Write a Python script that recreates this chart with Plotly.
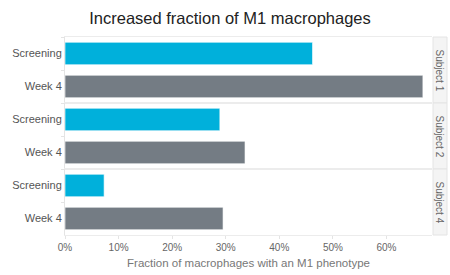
import plotly.graph_objects as go
from plotly.subplots import make_subplots

subjects = ["Subject 1", "Subject 2", "Subject 4"]
timepoints = ["Screening", "Week 4"]
screening = [0.462, 0.289, 0.073]
week4 = [0.668, 0.336, 0.295]
x_ticks = [0, 0.1, 0.2, 0.3, 0.4, 0.5, 0.6]
x_tick_labels = ["0%", "10%", "20%", "30%", "40%", "50%", "60%"]

colors = ["#00B0DB", "#747C84"]
FONT = "Liberation Sans, Arial"

W, H = 450, 275
ML, MR, MT, MB = 65, 18, 37, 40

fig = make_subplots(rows=3, cols=1, shared_xaxes=True, vertical_spacing=0.0)

for i, subj in enumerate(subjects):
    vals = [screening[i], week4[i]]
    fig.add_trace(
        go.Bar(
            x=vals, y=timepoints, orientation="h",
            marker=dict(color=colors, line=dict(color="rgba(255,255,255,0.6)", width=1)),
            showlegend=False, hoverinfo="x+y",
        ),
        row=i + 1, col=1,
    )
    fig.update_yaxes(
        row=i + 1, col=1,
        type="category", autorange="reversed", automargin=False,
        tickfont=dict(family=FONT, size=11, color="#555"),
        showline=True, linecolor="#e4e4e4", linewidth=1,
        ticks="outside", ticklen=3, tickcolor="#e4e4e4", tickson="boundaries",
        showgrid=False, zeroline=False,
    )
    fig.update_xaxes(
        row=i + 1, col=1, automargin=False,
        range=[0, 0.685], tickvals=x_ticks, ticktext=x_tick_labels,
        showgrid=False, zeroline=False,
        showline=True, mirror=True, linecolor="#ececec", linewidth=1,
        tickfont=dict(family=FONT, size=10, color="#666"),
    )

fig.update_xaxes(row=3, col=1, ticks="outside", ticklen=3, tickcolor="#e4e4e4",
                 title=dict(text="Fraction of macrophages with an M1 phenotype",
                            font=dict(family=FONT, size=11.5, color="#777"),
                            standoff=6))

fig.update_layout(bargap=0.32)

# strip labels on the right
pw = W - ML - MR
for i, subj in enumerate(subjects):
    dom = fig.layout["yaxis" + ("" if i == 0 else str(i + 1))].domain
    fig.add_shape(type="rect", xref="paper", yref="paper",
                  x0=1 + 1 / pw, x1=1 + 15 / pw, y0=dom[0], y1=dom[1],
                  fillcolor="#f4f4f4", line=dict(color="#e4e4e4", width=1), layer="below")
    fig.add_annotation(xref="paper", yref="paper", x=1 + 7.5 / pw, y=(dom[0] + dom[1]) / 2,
                       xanchor="center", yanchor="middle",
                       text=subj, textangle=90, showarrow=False,
                       font=dict(family=FONT, size=10, color="#666"))

fig.update_layout(
    width=W, height=H,
    margin=dict(l=ML, r=MR, t=MT, b=MB, autoexpand=False),
    paper_bgcolor="white", plot_bgcolor="white",
    title=dict(text="Increased fraction of M1 macrophages", x=230 / W, xanchor="center",
               y=1 - 18 / H, yref="container", yanchor="middle",
               font=dict(family=FONT, size=16.5, color="#222")),
)

fig.write_html(
    "out.html",
    config={"displayModeBar": False},
    post_script="document.body.style.margin='0';document.body.style.overflow='hidden';",
)
